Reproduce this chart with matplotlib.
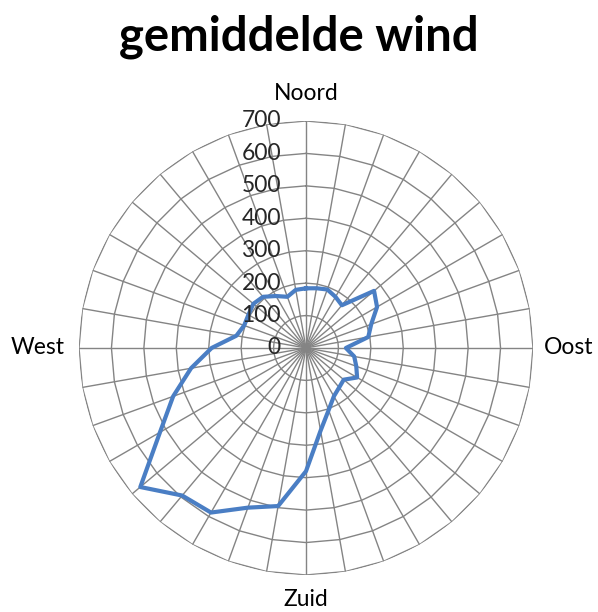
import numpy as np
import matplotlib.pyplot as plt

# windrichting in graden (met de klok mee vanaf noord) en gemiddelde waarde
richting = list(range(0, 360, 10))
waarde = [184, 187, 192, 182, 172, 274, 253, 214, 195, 123,
          151, 165, 182, 152, 159, 172, 204, 259, 380, 495,
          524, 586, 594, 667, 520, 436, 360, 291, 218, 203,
          205, 212, 206, 185, 168, 182]
ringen = [100, 200, 300, 400, 500, 600, 700]
ring_labels = ['0', '100', '200', '300', '400', '500', '600', '700']

plt.rcParams['font.family'] = ['Lato', 'DejaVu Sans']

fig = plt.figure(figsize=(5.98, 6.12), dpi=100)
ax = fig.add_axes([0.1321, 0.0605, 0.7592, 0.7418], projection='polar')
ax.set_theta_zero_location('N')
ax.set_theta_direction(-1)
ax.set_ylim(0, 700)
ax.grid(False)
ax.spines['polar'].set_visible(False)
ax.set_xticks([])
ax.set_yticks([])

theta = np.deg2rad(richting)
grijs = '#848484'

# veelhoekige ringen en spaken zoals in een Excel radardiagram
t_ring = np.append(theta, theta[0])
for r in ringen:
    ax.plot(t_ring, [r] * len(t_ring), color=grijs, lw=1.0, zorder=1)
for t in theta:
    ax.plot([t, t], [0, 700], color=grijs, lw=1.0, zorder=1)

# data
ax.plot(t_ring, waarde + [waarde[0]], color='#4a7ec4', lw=3.0,
        solid_joinstyle='round', zorder=3)

# labels van de waarde-as
for i, lab in enumerate(ring_labels):
    ax.annotate(lab, xy=(0, i * 100), xytext=(-25, 0), textcoords='offset pixels',
                ha='right', va='center', fontsize=16.5, color='#262626', zorder=4)

# windstreken
ax.text(0, 786, 'Noord', ha='center', va='center', fontsize=16.5, clip_on=False)
ax.text(np.pi, 777, 'Zuid', ha='center', va='center', fontsize=16.5, clip_on=False)
ax.text(np.pi / 2, 735, 'Oost', ha='left', va='center', fontsize=16.5, clip_on=False)
ax.text(3 * np.pi / 2, 743, 'West', ha='right', va='center', fontsize=16.5, clip_on=False)

fig.text(0.5, 1 - 37 / 612, 'gemiddelde wind', ha='center', va='center',
         fontsize=34, fontweight='bold')

fig.savefig('out.png', dpi=100)
